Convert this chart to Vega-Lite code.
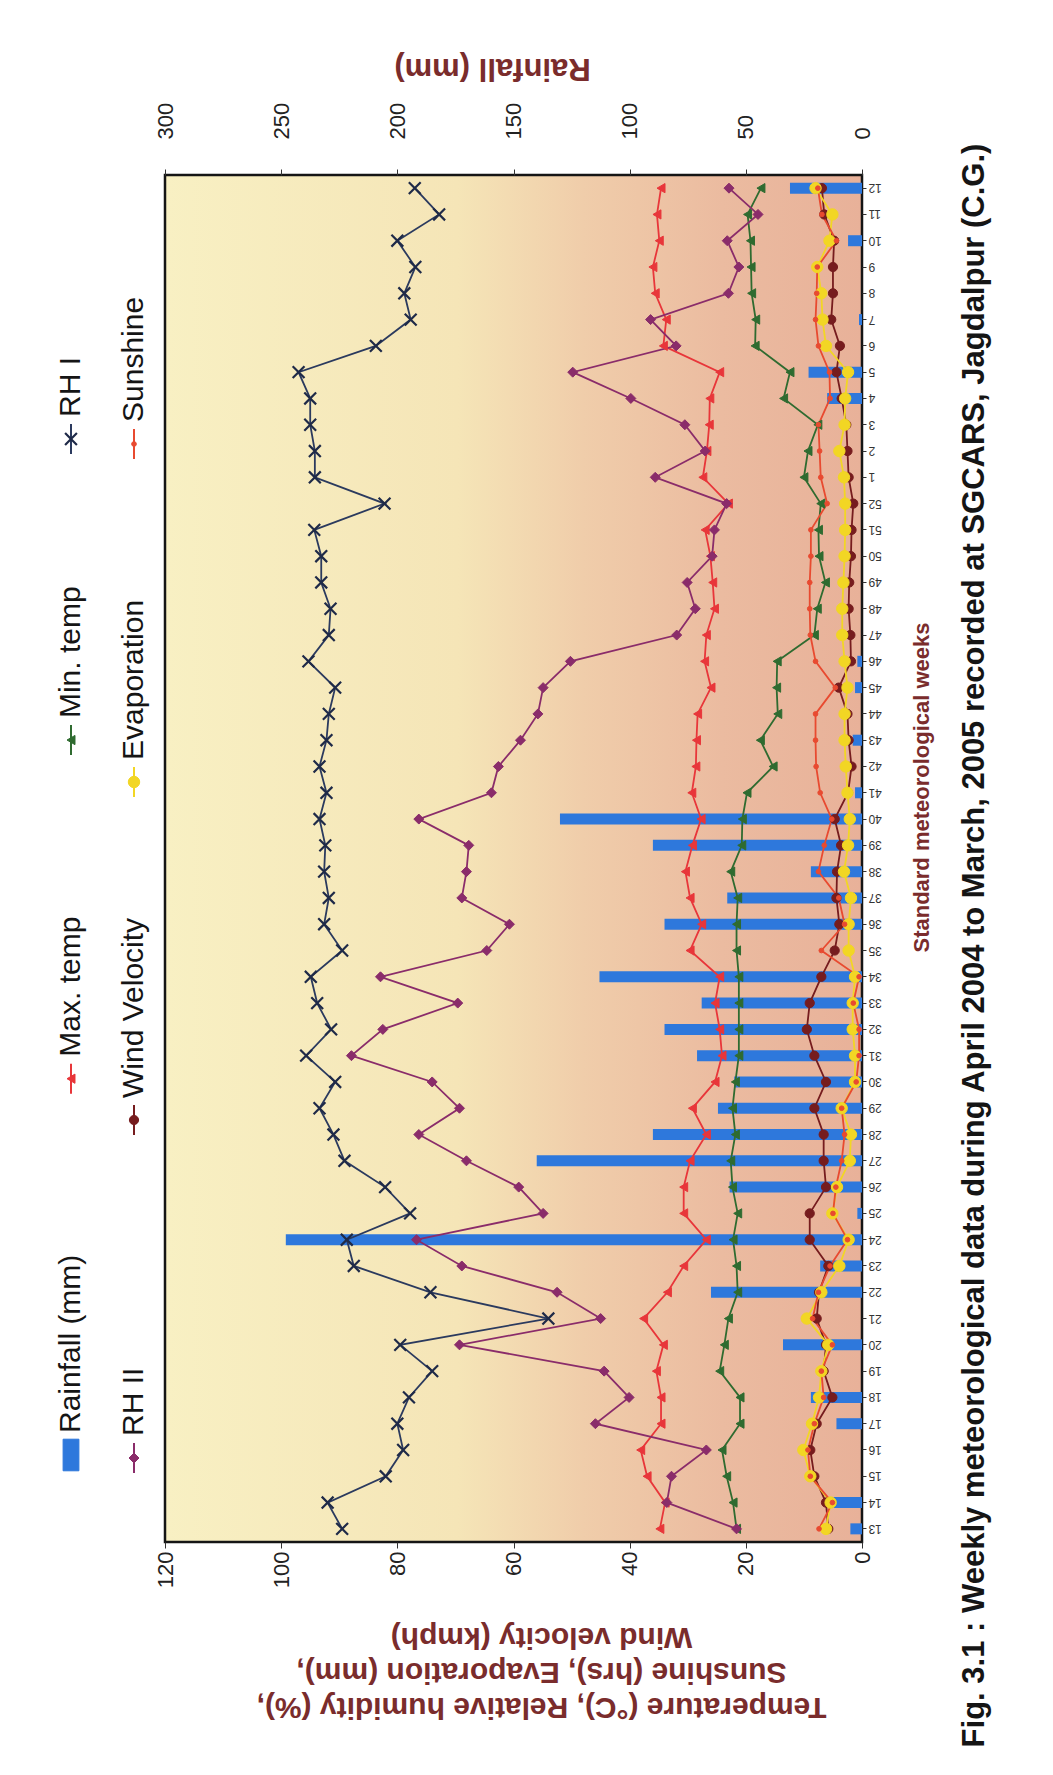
{
  "$schema": "https://vega.github.io/schema/vega-lite/v6.json",
  "width": 697,
  "height": 1367,
  "autosize": {"type": "none"},
  "padding": {"left": 165, "top": 175, "right": 191, "bottom": 233},
  "background": "white",
  "config": {
    "font": "Liberation Sans",
    "view": {
      "fill": {"gradient": "linear", "x1": 0, "y1": 0, "x2": 1, "y2": 0,
        "stops": [
          {"offset": 0, "color": "#F8F0C3"},
          {"offset": 0.42, "color": "#F5E5B7"},
          {"offset": 0.6, "color": "#F0CDAA"},
          {"offset": 0.8, "color": "#EBBBA0"},
          {"offset": 1, "color": "#E8B199"}
        ]},
      "stroke": "#151515",
      "strokeWidth": 2.5
    }
  },
  "datasets": {
    "weeks": [
      {"n": 1, "week": 13, "rain": 5, "maxT": 34.8, "minT": 21.6, "rh1": 89.5, "rh2": 21.6, "wind": 5.8, "evap": 6.2, "sun": 7.4},
      {"n": 2, "week": 14, "rain": 14, "maxT": 33.9, "minT": 22.2, "rh1": 92, "rh2": 33.6, "wind": 6.2, "evap": 5.4, "sun": 5.1},
      {"n": 3, "week": 15, "rain": 0, "maxT": 37, "minT": 23.3, "rh1": 82, "rh2": 32.8, "wind": 8.2, "evap": 8.9, "sun": 8.9},
      {"n": 4, "week": 16, "rain": 0, "maxT": 38.1, "minT": 24.1, "rh1": 79, "rh2": 26.8, "wind": 8.9, "evap": 10.1, "sun": 9.3},
      {"n": 5, "week": 17, "rain": 11, "maxT": 34.6, "minT": 21, "rh1": 80, "rh2": 45.9, "wind": 7.8, "evap": 8.6, "sun": 8.2},
      {"n": 6, "week": 18, "rain": 22, "maxT": 34.6, "minT": 21, "rh1": 78, "rh2": 40.1, "wind": 5.1, "evap": 7.4, "sun": 6.6},
      {"n": 7, "week": 19, "rain": 0, "maxT": 35.4, "minT": 24.5, "rh1": 74, "rh2": 44.4, "wind": 6.6, "evap": 7, "sun": 7},
      {"n": 8, "week": 20, "rain": 34, "maxT": 34.2, "minT": 23.7, "rh1": 79.5, "rh2": 69.3, "wind": 6.2, "evap": 5.8, "sun": 5.1},
      {"n": 9, "week": 21, "rain": 0, "maxT": 37.6, "minT": 23, "rh1": 54, "rh2": 45, "wind": 7.8, "evap": 9.5, "sun": 8.5},
      {"n": 10, "week": 22, "rain": 65, "maxT": 33.5, "minT": 21.4, "rh1": 74.3, "rh2": 52.5, "wind": 7.4, "evap": 7, "sun": 7.5},
      {"n": 11, "week": 23, "rain": 18, "maxT": 30.7, "minT": 21.6, "rh1": 87.5, "rh2": 68.9, "wind": 5.8, "evap": 3.9, "sun": 5.5},
      {"n": 12, "week": 24, "rain": 248, "maxT": 26.8, "minT": 22.2, "rh1": 88.7, "rh2": 76.7, "wind": 9, "evap": 2.3, "sun": 2.5},
      {"n": 13, "week": 25, "rain": 2, "maxT": 30.7, "minT": 21.4, "rh1": 77.8, "rh2": 54.9, "wind": 9, "evap": 5.1, "sun": 5},
      {"n": 14, "week": 26, "rain": 57, "maxT": 30.7, "minT": 22.3, "rh1": 82.1, "rh2": 59.1, "wind": 6.2, "evap": 4.3, "sun": 4.5},
      {"n": 15, "week": 27, "rain": 140, "maxT": 29.6, "minT": 22.6, "rh1": 89.1, "rh2": 68.1, "wind": 6.6, "evap": 2.1, "sun": 3.5},
      {"n": 16, "week": 28, "rain": 90, "maxT": 26.8, "minT": 21.8, "rh1": 91, "rh2": 76.3, "wind": 6.6, "evap": 1.9, "sun": 3},
      {"n": 17, "week": 29, "rain": 62, "maxT": 29.2, "minT": 22.3, "rh1": 93.4, "rh2": 69.3, "wind": 8.2, "evap": 3.5, "sun": 3.5},
      {"n": 18, "week": 30, "rain": 55, "maxT": 25.3, "minT": 21.8, "rh1": 90.7, "rh2": 74, "wind": 6.2, "evap": 1.2, "sun": 1},
      {"n": 19, "week": 31, "rain": 71, "maxT": 24.1, "minT": 21.2, "rh1": 95.7, "rh2": 87.9, "wind": 8.2, "evap": 1.2, "sun": 0.5},
      {"n": 20, "week": 32, "rain": 85, "maxT": 24.5, "minT": 21.2, "rh1": 91.4, "rh2": 82.5, "wind": 9.5, "evap": 1.6, "sun": 0.5},
      {"n": 21, "week": 33, "rain": 69, "maxT": 25.3, "minT": 21.2, "rh1": 93.8, "rh2": 69.6, "wind": 9, "evap": 1.6, "sun": 1.5},
      {"n": 22, "week": 34, "rain": 113, "maxT": 24.5, "minT": 21.2, "rh1": 94.9, "rh2": 82.9, "wind": 7, "evap": 1.2, "sun": 0.5},
      {"n": 23, "week": 35, "rain": 0, "maxT": 29.6, "minT": 21.6, "rh1": 89.5, "rh2": 64.6, "wind": 4.7, "evap": 2.3, "sun": 7},
      {"n": 24, "week": 36, "rain": 85, "maxT": 27.6, "minT": 21.6, "rh1": 92.6, "rh2": 60.7, "wind": 3.9, "evap": 2.3, "sun": 3},
      {"n": 25, "week": 37, "rain": 58, "maxT": 29.6, "minT": 21.4, "rh1": 91.8, "rh2": 68.9, "wind": 4.4, "evap": 1.9, "sun": 4},
      {"n": 26, "week": 38, "rain": 22, "maxT": 30.4, "minT": 22.6, "rh1": 92.6, "rh2": 68.1, "wind": 4.3, "evap": 3.1, "sun": 7.5},
      {"n": 27, "week": 39, "rain": 90, "maxT": 29.2, "minT": 20.7, "rh1": 92.4, "rh2": 67.7, "wind": 3.6, "evap": 2.4, "sun": 6.5},
      {"n": 28, "week": 40, "rain": 130, "maxT": 27.7, "minT": 20.6, "rh1": 93.4, "rh2": 76.3, "wind": 4.7, "evap": 2.1, "sun": 5.2},
      {"n": 29, "week": 41, "rain": 3, "maxT": 29.3, "minT": 19.8, "rh1": 92.2, "rh2": 63.8, "wind": 2.4, "evap": 2.5, "sun": 7.2},
      {"n": 30, "week": 42, "rain": 0, "maxT": 28.6, "minT": 15.3, "rh1": 93.4, "rh2": 62.6, "wind": 1.8, "evap": 2.8, "sun": 7.9},
      {"n": 31, "week": 43, "rain": 4, "maxT": 28.5, "minT": 17.5, "rh1": 92.2, "rh2": 58.8, "wind": 2.3, "evap": 3, "sun": 8},
      {"n": 32, "week": 44, "rain": 0, "maxT": 28.3, "minT": 14.5, "rh1": 91.8, "rh2": 55.8, "wind": 2.5, "evap": 3, "sun": 8},
      {"n": 33, "week": 45, "rain": 3, "maxT": 26, "minT": 14.7, "rh1": 90.7, "rh2": 54.9, "wind": 4, "evap": 2.5, "sun": 4.6},
      {"n": 34, "week": 46, "rain": 2, "maxT": 27.1, "minT": 14.6, "rh1": 95.3, "rh2": 50.2, "wind": 1.9, "evap": 3, "sun": 8},
      {"n": 35, "week": 47, "rain": 0, "maxT": 26.8, "minT": 8.2, "rh1": 91.8, "rh2": 31.9, "wind": 2, "evap": 3.4, "sun": 8.9},
      {"n": 36, "week": 48, "rain": 0, "maxT": 25.4, "minT": 7.7, "rh1": 91.5, "rh2": 28.7, "wind": 2.3, "evap": 3.4, "sun": 9},
      {"n": 37, "week": 49, "rain": 0, "maxT": 25.7, "minT": 6.3, "rh1": 93.1, "rh2": 30.1, "wind": 2.2, "evap": 3.2, "sun": 9},
      {"n": 38, "week": 50, "rain": 0, "maxT": 26.1, "minT": 7.4, "rh1": 93.1, "rh2": 25.8, "wind": 1.9, "evap": 3, "sun": 8.8},
      {"n": 39, "week": 51, "rain": 0, "maxT": 27, "minT": 7.5, "rh1": 94.3, "rh2": 25.4, "wind": 1.8, "evap": 2.9, "sun": 8.8},
      {"n": 40, "week": 52, "rain": 0, "maxT": 23, "minT": 7.1, "rh1": 82.2, "rh2": 23.3, "wind": 1.5, "evap": 2.9, "sun": 6},
      {"n": 41, "week": 1, "rain": 0, "maxT": 27.4, "minT": 10, "rh1": 94.2, "rh2": 35.6, "wind": 2.3, "evap": 3.1, "sun": 7.1},
      {"n": 42, "week": 2, "rain": 0, "maxT": 26.7, "minT": 9.3, "rh1": 94.2, "rh2": 27, "wind": 2.5, "evap": 3.9, "sun": 7.3},
      {"n": 43, "week": 3, "rain": 0, "maxT": 26.3, "minT": 7.6, "rh1": 95, "rh2": 30.5, "wind": 2.7, "evap": 3, "sun": 7.5},
      {"n": 44, "week": 4, "rain": 15, "maxT": 26.2, "minT": 13.5, "rh1": 95, "rh2": 39.8, "wind": 3.5, "evap": 2.9, "sun": 5.5},
      {"n": 45, "week": 5, "rain": 23, "maxT": 24.5, "minT": 12.4, "rh1": 97, "rh2": 49.8, "wind": 4.4, "evap": 2.4, "sun": 5.6},
      {"n": 46, "week": 6, "rain": 0, "maxT": 34.2, "minT": 18.4, "rh1": 83.7, "rh2": 32, "wind": 3.8, "evap": 6.2, "sun": 7.5},
      {"n": 47, "week": 7, "rain": 1.3, "maxT": 33.7, "minT": 18.3, "rh1": 77.7, "rh2": 36.4, "wind": 5.3, "evap": 6.8, "sun": 8},
      {"n": 48, "week": 8, "rain": 0, "maxT": 35.6, "minT": 19, "rh1": 78.8, "rh2": 23, "wind": 5, "evap": 7, "sun": 7.8},
      {"n": 49, "week": 9, "rain": 0, "maxT": 36, "minT": 19.1, "rh1": 76.9, "rh2": 21.2, "wind": 5, "evap": 7.7, "sun": 7.7},
      {"n": 50, "week": 10, "rain": 6, "maxT": 34.9, "minT": 19.2, "rh1": 80, "rh2": 23.2, "wind": 4.8, "evap": 5.6, "sun": 4.4},
      {"n": 51, "week": 11, "rain": 0, "maxT": 35.3, "minT": 19.7, "rh1": 72.8, "rh2": 17.9, "wind": 6.5, "evap": 5.1, "sun": 6.9},
      {"n": 52, "week": 12, "rain": 31, "maxT": 34.6, "minT": 17.4, "rh1": 77, "rh2": 22.9, "wind": 6.9, "evap": 8, "sun": 7.6}
    ],
    "legend": [
      {"key": "rain", "label": "Rainfall (mm)", "legendRow": "first"},
      {"key": "maxT", "label": "Max. temp", "legendRow": "first"},
      {"key": "minT", "label": "Min. temp", "legendRow": "first"},
      {"key": "rh1", "label": "RH I", "legendRow": "first"},
      {"key": "rh2", "label": "RH II", "legendRow": "second"},
      {"key": "wind", "label": "Wind Velocity", "legendRow": "second"},
      {"key": "evap", "label": "Evaporation", "legendRow": "second"},
      {"key": "sun", "label": "Sunshine", "legendRow": "second"}
    ]
  },
  "title": {
    "text": "Fig. 3.1 : Weekly meteorological data during April 2004 to March, 2005 recorded at SGCARS, Jagdalpur (C.G.)",
    "orient": "right",
    "angle": 270,
    "baseline": "top",
    "anchor": "middle",
    "frame": "group",
    "offset": -3,
    "dx": -87,
    "font": "Liberation Sans",
    "fontSize": 31,
    "fontWeight": "bold",
    "color": "#151515"
  },
  "layer": [
    {
      "layer": [
        {
          "data": {"name": "weeks"},
          "mark": {"type": "bar", "color": "#2E78DC", "size": 11},
          "encoding": {
            "x": {
              "field": "rain", "type": "quantitative",
              "scale": {"domain": [0, 300], "reverse": true, "nice": false, "zero": true},
              "axis": {
                "orient": "top", "values": [0, 50, 100, 150, 200, 250, 300],
                "grid": false, "domain": false, "ticks": true, "tickSize": 6, "tickColor": "#333",
                "labelAngle": 270, "labelFont": "Liberation Sans", "labelFontSize": 22, "labelColor": "#222", "labelPadding": 30,
                "title": "Rainfall (mm)", "titleAngle": 180, "titleBaseline": "top", "titleFontSize": 31, "titleFontWeight": "bold",
                "titleColor": "#7A2C2C", "titlePadding": 20, "titleX": 327
              }
            },
            "y": {
              "field": "week", "type": "ordinal",
              "scale": {"type": "band", "domain": [12, 11, 10, 9, 8, 7, 6, 5, 4, 3, 2, 1, 52, 51, 50, 49, 48, 47, 46, 45, 44, 43, 42, 41, 40, 39, 38, 37, 36, 35, 34, 33, 32, 31, 30, 29, 28, 27, 26, 25, 24, 23, 22, 21, 20, 19, 18, 17, 16, 15, 14, 13], "paddingInner": 0, "paddingOuter": 0},
              "axis": {
                "orient": "right", "grid": false, "domain": false, "ticks": true, "tickSize": 4, "tickColor": "#333",
                "labelAngle": 180, "labelAlign": "right", "labelBaseline": "middle", "labelFontSize": 12, "labelColor": "#333", "labelPadding": 2,
                "title": "Standard meteorological weeks", "titleAngle": 270, "titleBaseline": "top", "titleFontSize": 22, "titleFontWeight": "bold",
                "titleColor": "#7A2C2C", "titlePadding": 30, "titleY": 612
              }
            }
          }
        },
        {
          "data": {"name": "weeks"},
          "transform": [{"fold": ["maxT", "minT", "rh1", "rh2", "wind", "evap", "sun"], "as": ["key", "value"]}],
          "encoding": {
            "x": {
              "field": "value", "type": "quantitative",
              "scale": {"domain": [0, 120], "reverse": true, "nice": false},
              "axis": {
                "orient": "bottom", "values": [0, 20, 40, 60, 80, 100, 120],
                "grid": false, "domain": false, "ticks": true, "tickSize": 6, "tickColor": "#333",
                "labelAngle": 270, "labelFont": "Liberation Sans", "labelFontSize": 22, "labelColor": "#222", "labelPadding": 3,
                "title": ["Temperature (°C), Relative humidity (%),", "Sunshine (hrs), Evaporation (mm),", "Wind velocity (kmph)"],
                "titleAngle": 180, "titleBaseline": "bottom", "titleFontSize": 30, "titleFontWeight": "bold", "titleLineHeight": 35,
                "titleColor": "#7A2C2C", "titleX": 376, "titleY": 149
              }
            },
            "y": {"field": "week", "type": "ordinal"},
            "color": {
              "field": "key", "type": "nominal", "legend": null,
              "scale": {"domain": ["rain", "maxT", "minT", "rh1", "rh2", "wind", "evap", "sun"],
                        "range": ["#2E78DC", "#E8363A", "#2F6B30", "#2B3A5E", "#8A2C6A", "#761C1E", "#F2D624", "#E84A30"]}
            }
          },
          "layer": [
            {
              "mark": {"type": "line", "strokeWidth": 1.8},
              "encoding": {"order": {"field": "n", "type": "quantitative"}}
            },
            {
              "mark": {"type": "point", "filled": true, "opacity": 1},
              "encoding": {
                "shape": {
                  "field": "key", "type": "nominal", "legend": null,
                  "scale": {"domain": ["rain", "maxT", "minT", "rh1", "rh2", "wind", "evap", "sun"],
                            "range": ["M-0.5,-1H0.5V1H-0.5Z", "triangle-left", "triangle-left", "M-1,-1L1,1M-1,1L1,-1", "diamond", "circle", "circle", "circle"]}
                },
                "stroke": {
                  "field": "key", "type": "nominal", "legend": null,
                  "scale": {"domain": ["rain", "maxT", "minT", "rh1", "rh2", "wind", "evap", "sun"],
                            "range": ["#2E78DC", "#E8363A", "#2F6B30", "#1F2A48", "#8A2C6A", "#761C1E", "#F2D624", "#E84A30"]}
                },
                "strokeWidth": {"condition": {"test": "datum.key === 'rh1'", "value": 2.2}, "value": 1},
                "size": {
                  "condition": [
                    {"test": "datum.key === 'sun'", "value": 22},
                    {"test": "datum.key === 'evap'", "value": 130},
                    {"test": "datum.key === 'rh1'", "value": 140},
                    {"test": "datum.key === 'rh2'", "value": 100}
                  ],
                  "value": 85
                }
              }
            }
          ]
        }
      ],
      "resolve": {"scale": {"x": "independent"}}
    },
    {
      "data": {"name": "legend"},
      "transform": [{"filter": "datum.legendRow === 'first'"}],
      "encoding": {
        "x": {"field": "legendRow", "type": "nominal", "scale": {"type": "point", "domain": ["first"], "range": [-94, -94]}, "axis": null},
        "y": {"field": "key", "type": "nominal",
              "scale": {"type": "point", "padding": 0, "range": [264, 1280],
                        "domain": ["rh1", "g1", "g2", "g3", "g4", "g5", "g6", "g7", "minT", "g8", "g9", "g10", "g11", "g12", "g13", "g14", "g15", "maxT", "g16", "g17", "g18", "g19", "g20", "g21", "g22", "g23", "g24", "rain"]},
              "axis": null},
        "color": {"field": "key", "type": "nominal", "legend": null}
      },
      "layer": [
        {
          "transform": [{"filter": "datum.key !== 'rain'"}],
          "mark": {"type": "point", "filled": false, "shape": "M0,-1L0,1", "size": 900, "strokeWidth": 2, "opacity": 1}
        },
        {
          "mark": {"type": "point", "filled": true, "opacity": 1},
          "encoding": {
            "shape": {"field": "key", "type": "nominal", "legend": null},
            "stroke": {"field": "key", "type": "nominal", "legend": null},
            "strokeWidth": {"condition": {"test": "datum.key === 'rh1'", "value": 2.2}, "value": 1},
            "size": {
              "condition": [
                {"test": "datum.key === 'rain'", "value": 1000},
                {"test": "datum.key === 'rh1'", "value": 140}
              ],
              "value": 85
            }
          }
        },
        {
          "mark": {"type": "text", "angle": 270, "align": "left", "baseline": "middle", "dx": 22, "font": "Liberation Sans", "fontSize": 30, "color": "#151515"},
          "encoding": {"text": {"field": "label"}, "color": {"value": "#151515"}}
        }
      ]
    },
    {
      "data": {"name": "legend"},
      "transform": [{"filter": "datum.legendRow === 'second'"}],
      "encoding": {
        "x": {"field": "legendRow", "type": "nominal", "scale": {"type": "point", "domain": ["second"], "range": [-31, -31]}, "axis": null},
        "y": {"field": "key", "type": "nominal", "scale": {"type": "point", "domain": ["sun", "evap", "wind", "rh2"], "range": [269, 1283], "padding": 0}, "axis": null},
        "color": {"field": "key", "type": "nominal", "legend": null}
      },
      "layer": [
        {
          "mark": {"type": "point", "filled": false, "shape": "M0,-1L0,1", "size": 900, "strokeWidth": 2, "opacity": 1}
        },
        {
          "mark": {"type": "point", "filled": true, "opacity": 1},
          "encoding": {
            "shape": {"field": "key", "type": "nominal", "legend": null},
            "stroke": {"field": "key", "type": "nominal", "legend": null},
            "strokeWidth": {"value": 1},
            "size": {
              "condition": [
                {"test": "datum.key === 'sun'", "value": 22},
                {"test": "datum.key === 'evap'", "value": 130},
                {"test": "datum.key === 'rh2'", "value": 100}
              ],
              "value": 85
            }
          }
        },
        {
          "mark": {"type": "text", "angle": 270, "align": "left", "baseline": "middle", "dx": 22, "font": "Liberation Sans", "fontSize": 30, "color": "#151515"},
          "encoding": {"text": {"field": "label"}, "color": {"value": "#151515"}}
        }
      ]
    }
  ],
  "resolve": {"scale": {"x": "independent", "y": "independent"}}
}
